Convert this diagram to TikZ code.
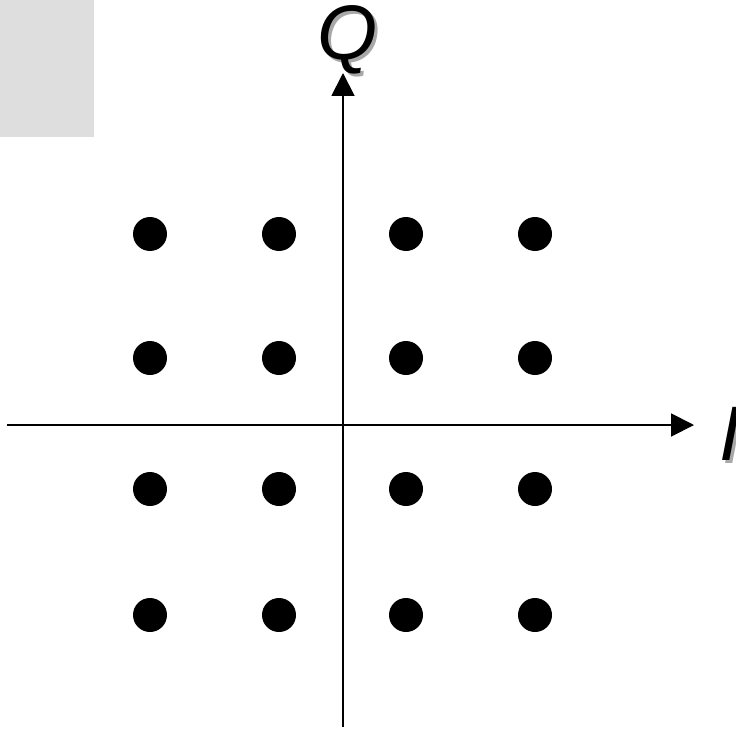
\documentclass[tikz,border=0pt]{standalone}
\usepackage{fontspec}
\setmainfont{Liberation Sans}
\usepackage{xcolor}
\definecolor{ink}{HTML}{000000}
\definecolor{panel}{HTML}{DEDEDE}
\definecolor{shade}{HTML}{A8A8A8}
\usepackage{tikz}
\usetikzlibrary{arrows.meta, positioning}
\tikzset{
  >={Triangle[length=13pt, width=13pt]},
  axis/.style={->, line width=1.1pt, color=ink},
  sym/.style={circle, fill=ink, inner sep=0pt, minimum size=0.68cm},
  lab/.style={font=\fontsize{44}{44}\selectfont\itshape, inner sep=0pt, anchor=base, text=ink},
  labshade/.style={lab, text=shade},
}

\begin{document}
\begin{tikzpicture}[x=0.02cm, y=-0.02cm]
  \useasboundingbox (0,0) rectangle (736,730);

  % grey block, top left
  \fill[panel] (0,0) rectangle (94,137);

  % axes
  \coordinate (xs) at (7,425);
  \coordinate (xe) at (694,425);
  \coordinate (ys) at (343,727);
  \coordinate (ye) at (343,73);
  \draw[axis] (xs) -- (xe);
  \draw[axis] (ys) -- (ye);

  % axis labels, with a soft shadow
  \node[labshade] (qshadow) at (351,62) {Q};
  \node[lab] (qlab) at (348,59) {Q};
  \node[labshade] (ishadow) at (733,463) {I};
  \node[lab] (ilab) at (730,460) {I};

  % 16 constellation points
  \foreach \x/\i in {150/1, 279/2, 406/3, 535/4}
    \foreach \y/\j in {234/1, 358/2, 489/3, 615/4}
      \node[sym] (p\i\j) at (\x,\y) {};
\end{tikzpicture}
\end{document}
